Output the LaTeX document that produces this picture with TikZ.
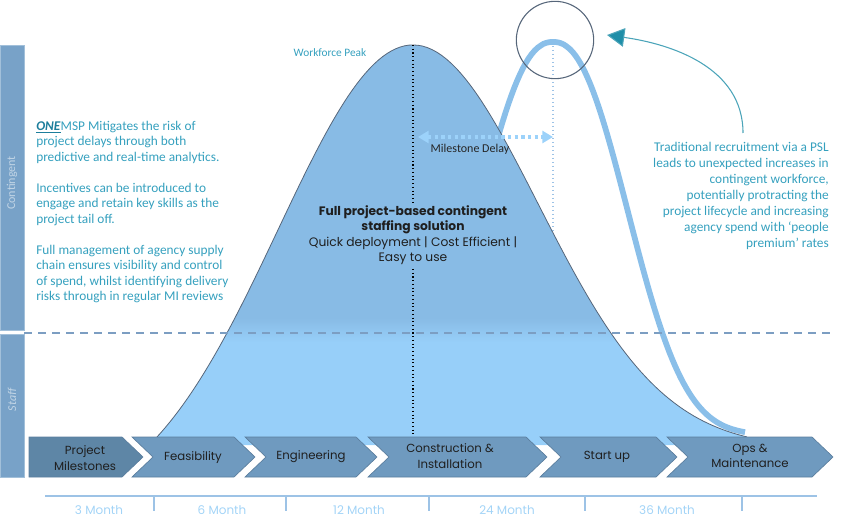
\documentclass[tikz,border=0pt]{standalone}
\usepackage{fontspec}
\setmainfont{Carlito}
\newfontfamily\dmsans{Poppins}
\usetikzlibrary{arrows.meta,calc}
\definecolor{teal1}{HTML}{35A0BE}
\definecolor{tealdark}{HTML}{1D7E9C}
\definecolor{tealarrow}{HTML}{1E8EA8}
\definecolor{bellup}{HTML}{88BBE5}
\definecolor{belllow}{HTML}{97CFF9}
\definecolor{tradblue}{HTML}{8ABFE9}
\definecolor{chevdark}{HTML}{5E86A6}
\definecolor{chevfill}{HTML}{6F9ABF}
\definecolor{chevline}{HTML}{5B7E9E}
\definecolor{barfill}{HTML}{78A2C8}
\definecolor{barline}{HTML}{A2C0DA}
\definecolor{monthblue}{HTML}{A3D4F7}
\definecolor{axisblue}{HTML}{9DC3E6}
\definecolor{dashblue}{HTML}{7C9EC2}
\definecolor{delayblue}{HTML}{9CD2FA}
\definecolor{outline}{HTML}{56667A}
\tikzstyle{chevlbl}=[font=\dmsans\fontsize{8.8}{11.8}\selectfont, text=black!88, align=center, inner sep=0pt]
\tikzstyle{monthlbl}=[font=\dmsans\fontsize{9}{10}\selectfont, text=monthblue, inner sep=0pt]
\tikzstyle{blurb}=[text=teal1, inner sep=0pt]
\tikzstyle{barlbl}=[font=\fontsize{9}{10}\selectfont, text=white!55!barfill, rotate=90, inner sep=0pt]
\newcommand{\drawchevron}[4]
{
  \filldraw[fill=#4, draw=chevline, line width=0.5pt] (#1,437) -- (#2,437) -- ({#2+21},457) -- (#2,477) -- (#1,477) -- ({#1+#3},457) -- cycle;
}
\newcommand{\bellpath}[0]
{
  (157,445) -- plot[domain=157:413, samples=60] (\x,{bellL(\x)}) -- plot[domain=413:747, samples=70] (\x,{bellR(\x)}) -- (747,445) -- cycle
}

\begin{document}
\begin{tikzpicture}[x=0.75pt, y=-0.75pt,
  declare function={bellL(\t)=437-392*(exp(-0.5*((\t-413)/135)^2)-0.1656)/0.8344;
                    bellR(\t)=437-392*(exp(-0.5*((\t-413)/125)^2)-0.028)/0.972;
                    trad(\t)=435-393*exp(-((abs(\t-553)/96)^2.3));}]
	\useasboundingbox (0,0) rectangle (841,527);

	% side bars
	\filldraw[fill=barfill, draw=barline, line width=0.6pt] (0,45) rectangle (24,330);
	\filldraw[fill=barfill, draw=barline, line width=0.6pt] (0,334) rectangle (24,477);
	\node[barlbl] (contlbl) at (12,183) {Contingent};
	\node[barlbl, font=\fontsize{9}{10}\selectfont\itshape] (stafflbl) at (12,400) {Staff};

	% traditional PSL curve and its peak line (behind the bell)
	\coordinate (tradtop) at (553,42);
	\coordinate (tradbase) at (553,437);
	\draw[axisblue, line width=1pt, dotted] (tradtop) -- (tradbase);
	\draw[tradblue, line width=4.3pt] plot[domain=485:745, samples=90] (\x,{trad(\x)});

	% bell
	\begin{scope}
		\clip \bellpath;
		\fill[bellup] (0,0) rectangle (841,318);
		\shade[top color=bellup, bottom color=belllow] (0,318) rectangle (841,342);
		\fill[belllow] (0,342) rectangle (841,450);
	\end{scope}
	\draw[outline, line width=0.6pt] plot[domain=157:413, samples=60] (\x,{bellL(\x)}) -- plot[domain=413:747, samples=70] (\x,{bellR(\x)});

	\draw[dashblue, line width=1pt, dash pattern=on 6pt off 4.5pt] (24,333) -- (830,333);

	% peaks
	\coordinate (peak) at (413,45);
	\coordinate (peakbase) at (413,437);
	\draw[black, line width=0.8pt, dotted] (peak) -- (peakbase);
	\node[circle, draw=outline, line width=0.8pt, minimum size=58pt, inner sep=0pt] (tradpeak) at (555,40) {};

	\node[font=\fontsize{8.5}{10}\selectfont, text=teal1] (wfpeak) at (330,53) {Workforce Peak};

	% milestone delay
	\coordinate (delayL) at (418,137);
	\coordinate (delayR) at (553,137);
	\draw[delayblue, line width=2.6pt, dash pattern=on 2.6pt off 2.4pt, {Triangle[length=8pt,width=9pt]}-{Triangle[length=8pt,width=9pt]}] (delayL) -- (delayR);
	\node[font=\fontsize{9}{10}\selectfont, text=black!85] (delaylbl) at (470,149) {Milestone Delay};

	\node[chevlbl, fill=bellup, inner sep=1pt, font=\dmsans\fontsize{9.2}{11.6}\selectfont] (solution) at (413,235)
		{\textbf{Full project-based contingent}\\\textbf{staffing solution}\\Quick deployment | Cost Efficient |\\Easy to use};

	% left text
	\node[blurb, anchor=north west, align=left, font=\fontsize{10}{11.6}\selectfont] (onemsp) at (36,121)
		{\textcolor{tealdark}{\underline{\textbf{\textit{ONE}}}}MSP Mitigates the risk of\\project delays through both\\predictive and real-time analytics.\\[11.6pt]
		 Incentives can be introduced to\\engage and retain key skills as the\\project tail off.\\[11.6pt]
		 Full management of agency supply\\chain ensures visibility and control\\of spend, whilst identifying delivery\\risks through in regular MI reviews};

	% right text
	\node[blurb, anchor=north east, align=right, font=\fontsize{10}{12}\selectfont] (psl) at (829,142)
		{Traditional recruitment via a PSL\\leads to unexpected increases in\\contingent workforce,\\potentially protracting the\\project lifecycle and increasing\\agency spend with `people\\premium' rates};
	\coordinate (pslarrow) at (743,133);
	\coordinate (circtip) at (607,35);
	\draw[tealarrow!80!white, line width=0.8pt, -{Triangle[length=13pt,width=14pt,fill=tealarrow]}] (pslarrow) to[out=90, in=-8] (circtip);

	% milestones
	\drawchevron{29}{122}{0}{chevdark}
	\drawchevron{132}{234}{21}{chevfill}
	\drawchevron{245}{356}{21}{chevfill}
	\drawchevron{368}{526}{21}{chevfill}
	\drawchevron{540}{656}{21}{chevfill}
	\drawchevron{667}{812}{21}{chevfill}
	\node[chevlbl] (milestones) at (85,458) {Project\\Milestones};
	\node[chevlbl] (feas) at (193,458) {Feasibility};
	\node[chevlbl] (eng) at (311,457) {Engineering};
	\node[chevlbl] (constr) at (450,456) {Construction \&\\Installation};
	\node[chevlbl] (startup) at (607,457) {Start up};
	\node[chevlbl] (ops) at (750,456) {Ops \&\\Maintenance};

	% time axis
	\draw[axisblue, line width=2pt] (45,496) -- (817,496);
	\foreach \tx in {154,286,429,585,742}
		\draw[axisblue, line width=2pt] (\tx,496) -- (\tx,511);
	\node[monthlbl] (m3) at (99,510) {3 Month};
	\node[monthlbl] (m6) at (222,510) {6 Month};
	\node[monthlbl] (m12) at (359,510) {12 Month};
	\node[monthlbl] (m24) at (507,510) {24 Month};
	\node[monthlbl] (m36) at (667,510) {36 Month};

\end{tikzpicture}
\end{document}
